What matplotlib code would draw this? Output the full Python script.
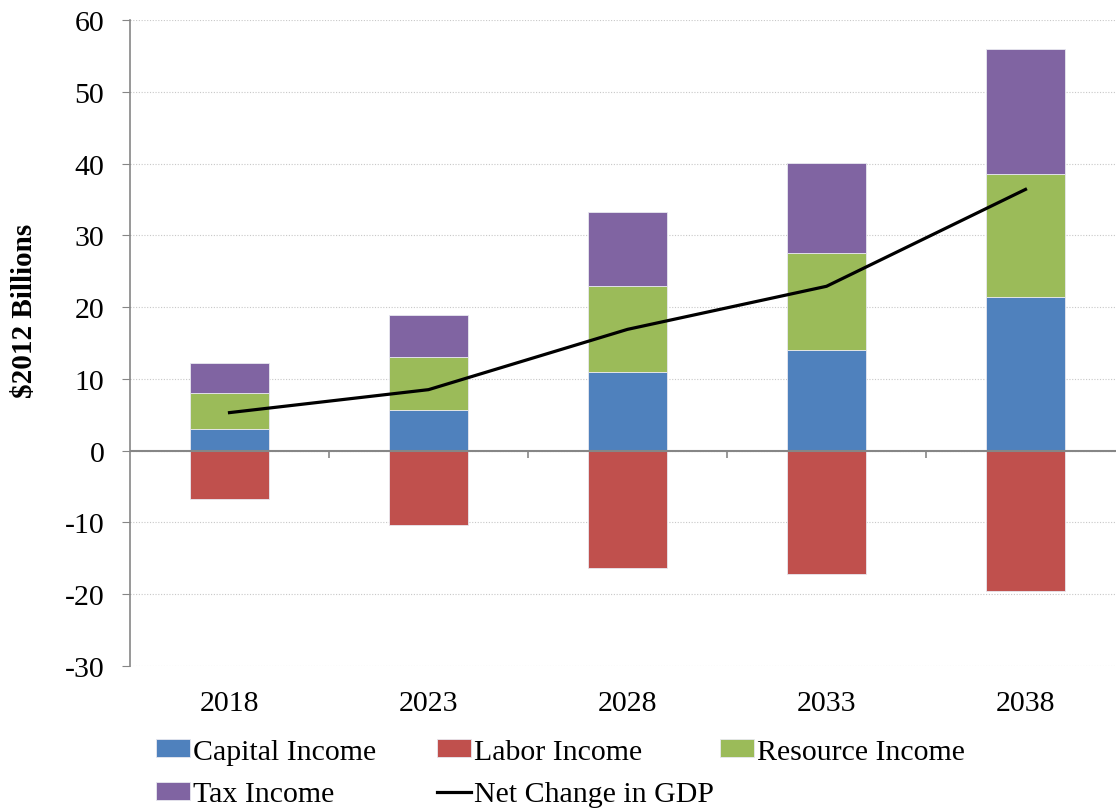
import matplotlib.pyplot as plt
import numpy as np

years = ['2018', '2023', '2028', '2033', '2038']
capital = [3.0, 5.6, 10.9, 14.0, 21.4]
resource = [5.0, 7.4, 12.1, 13.5, 17.1]
tax = [4.2, 5.9, 10.3, 12.6, 17.5]
labor = [-6.7, -10.3, -16.3, -17.2, -19.5]
net_gdp = [5.3, 8.5, 16.9, 22.9, 36.4]

plt.rcParams['font.family'] = ['Liberation Serif', 'DejaVu Serif']
plt.rcParams['axes.unicode_minus'] = False

fig = plt.figure(figsize=(11.16, 8.12), dpi=100)
ax = fig.add_axes([130 / 1116, 1 - 667 / 812, 986 / 1116, 646 / 812])

x = np.arange(len(years))
w = 0.4
edge = dict(edgecolor='#e8e8f0', linewidth=0.6)

b_cap = ax.bar(x, capital, w, color='#4F81BD', label='Capital Income', **edge, zorder=3)
b_lab = ax.bar(x, labor, w, color='#C0504D', label='Labor Income', **edge, zorder=3)
bottom = np.array(capital)
b_res = ax.bar(x, resource, w, bottom=bottom, color='#9BBB59', label='Resource Income', **edge, zorder=3)
bottom = bottom + np.array(resource)
b_tax = ax.bar(x, tax, w, bottom=bottom, color='#8064A2', label='Tax Income', **edge, zorder=3)
line, = ax.plot(x, net_gdp, color='black', linewidth=2.3, label='Net Change in GDP', zorder=4)

ax.set_xlim(-0.5, (1116 - 229.5) / 199)
ax.set_ylim(-30, 60)
ax.set_yticks(np.arange(-30, 61, 10))
ax.yaxis.grid(True, linestyle=(0, (1, 1.5)), color='#c8c8c8', linewidth=0.8, zorder=0)

# zero axis with separators between categories
ax.axhline(0, color='#868686', linewidth=1.5, zorder=5)
ax.vlines(x[:-1] + 0.5, -1.0, 0, color='#868686', linewidth=1.2, zorder=5)

for s in ['top', 'right', 'bottom']:
    ax.spines[s].set_visible(False)
ax.spines['left'].set_color('#868686')
ax.spines['left'].set_linewidth(1.2)

ax.set_xticks(x)
ax.set_xticklabels(years)
ax.tick_params(axis='x', length=0, pad=17, labelsize=21.5)
ax.tick_params(axis='y', direction='out', length=5.5, color='#868686', labelsize=21.5, pad=13)

ax.set_ylabel('$2012 Billions', fontsize=21, fontweight='bold')
ax.yaxis.set_label_coords(-0.0935, 0.551)

# Excel-style legend: equal-width columns, filled row by row
columns = [([b_cap, b_tax], 156), ([b_lab, line], 437), ([b_res], 720)]
for hs, left in columns:
    leg = fig.legend(hs, [h.get_label() for h in hs], loc='upper left',
                     bbox_to_anchor=(left / 1116, 1 - 740 / 812),
                     frameon=False, fontsize=21.5, handlelength=1.14, handleheight=0.55,
                     handletextpad=0.1, labelspacing=0.55, borderpad=0, borderaxespad=0)

fig.savefig('out.png', dpi=100)
